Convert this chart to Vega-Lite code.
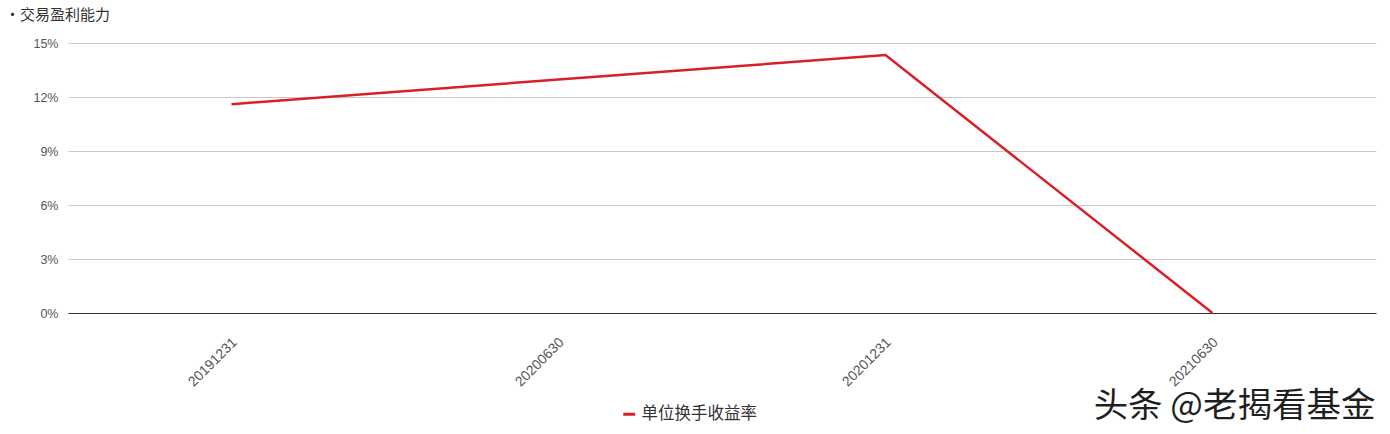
{
  "$schema": "https://vega.github.io/schema/vega-lite/v6.json",
  "autosize": {"type": "none"},
  "padding": {"left": 68, "top": 43, "right": 14, "bottom": 121},
  "width": 1308,
  "height": 270,
  "background": "#ffffff",
  "title": {
    "text": "·交易盈利能力",
    "anchor": "start",
    "frame": "group",
    "dx": -63,
    "offset": 14,
    "fontSize": 15,
    "fontWeight": "normal",
    "font": "Noto Sans CJK SC",
    "color": "#333333"
  },
  "data": {
    "values": [
      {"date": "20191231", "series": "单位换手收益率", "value": 0.1160},
      {"date": "20200630", "series": "单位换手收益率", "value": 0.1297},
      {"date": "20201231", "series": "单位换手收益率", "value": 0.1433},
      {"date": "20210630", "series": "单位换手收益率", "value": 0.0}
    ]
  },
  "mark": {"type": "line", "strokeWidth": 2.5, "clip": false},
  "encoding": {
    "x": {
      "field": "date",
      "type": "ordinal",
      "sort": null,
      "scale": {"type": "point", "padding": 0.5},
      "axis": {
        "title": "头条 @老揭看基金",
        "titleFont": "Noto Sans CJK SC",
        "titleFontSize": 34.5,
        "titleFontWeight": "normal",
        "titleColor": "#1f1f1f",
        "titleAnchor": "end",
        "titleAlign": "right",
        "titleBaseline": "alphabetic",
        "titleX": 1307,
        "titleY": 103,
        "labelAngle": -45,
        "labelFont": "Liberation Sans",
        "labelFontSize": 14,
        "labelColor": "#555555",
        "labelPadding": 22,
        "labelOffset": -2,
        "ticks": false,
        "domain": true,
        "domainColor": "#333333",
        "domainWidth": 1.2,
        "grid": false
      }
    },
    "y": {
      "field": "value",
      "type": "quantitative",
      "scale": {"domain": [0, 0.15]},
      "axis": {
        "title": null,
        "values": [0, 0.03, 0.06, 0.09, 0.12, 0.15],
        "format": ".0%",
        "labelFont": "Liberation Sans",
        "labelFontSize": 12.5,
        "labelColor": "#555555",
        "labelPadding": 10,
        "ticks": false,
        "domain": false,
        "grid": true,
        "gridColor": "#c8c8c8",
        "gridWidth": 1
      }
    },
    "color": {
      "field": "series",
      "type": "nominal",
      "scale": {"range": ["#d92027"]},
      "legend": {
        "title": null,
        "orient": "none",
        "legendX": 553,
        "legendY": 363,
        "symbolType": "stroke",
        "symbolStrokeWidth": 3,
        "symbolSize": 144,
        "labelFont": "Noto Sans CJK SC",
        "labelFontSize": 16.5,
        "labelColor": "#333333"
      }
    }
  },
  "config": {
    "view": {"stroke": null}
  }
}
